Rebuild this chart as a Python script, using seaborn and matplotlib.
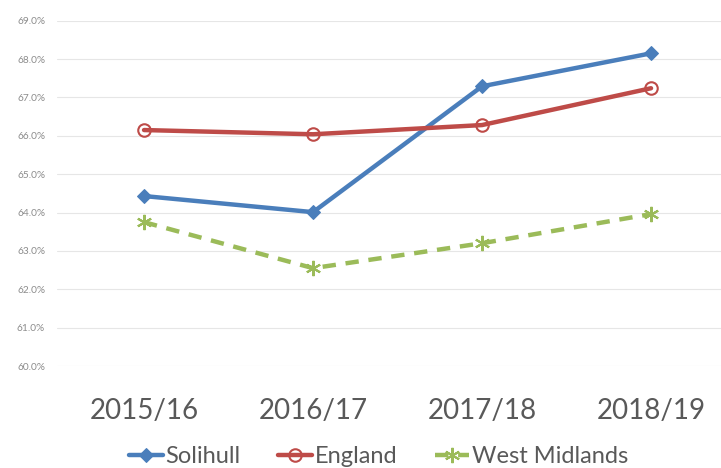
import matplotlib
matplotlib.use("Agg")
import matplotlib.pyplot as plt
import seaborn as sns
import pandas as pd
from matplotlib.ticker import FuncFormatter

years = ["2015/16", "2016/17", "2017/18", "2018/19"]
solihull = [64.43, 64.01, 67.29, 68.15]
england = [66.15, 66.04, 66.28, 67.24]
west_midlands = [63.75, 62.55, 63.20, 63.96]
series_names = ["Solihull", "England", "West Midlands"]

df = pd.DataFrame({
    "year": years * 3,
    "x": list(range(len(years))) * 3,
    "value": solihull + england + west_midlands,
    "series": [s for s in series_names for _ in years],
})

sns.set_theme(style="white")
plt.rcParams["font.family"] = ["Lato", "DejaVu Sans"]

fig = plt.figure(figsize=(7.21, 4.68), dpi=100)
ax = fig.add_axes([57 / 721, 1 - 366 / 468, (721 - 57) / 721, (366 - 20.7) / 468])

styles = {
    "Solihull": dict(color="#4a7ebb", marker="D", markersize=7, linestyle="-",
                     markerfacecolor="#4a7ebb", markeredgecolor="#4a7ebb"),
    "England": dict(color="#be4b48", marker="o", markersize=9, linestyle="-",
                    markerfacecolor="none", markeredgecolor="#be4b48", markeredgewidth=1.5),
    "West Midlands": dict(color="#9bbb59", marker=(6, 2, 0), markersize=11, linestyle=(0, (3, 2.2)),
                          markerfacecolor="#9bbb59", markeredgecolor="#9bbb59", markeredgewidth=1.5),
}

for name in series_names:
    sub = df[df["series"] == name]
    sns.lineplot(data=sub, x="x", y="value", ax=ax, label=name, linewidth=3.2, **styles[name])

ax.set_xlim(-0.515, 3.414)
ax.set_ylim(60, 69)
ax.set_yticks([60 + i for i in range(10)])
ax.yaxis.set_major_formatter(FuncFormatter(lambda v, p: f"{v:.1f}%"))
ax.set_xticks(range(len(years)))
ax.set_xticklabels(years)
ax.tick_params(axis="y", labelsize=7.3, labelcolor="#8c8c8c", length=0, pad=8.5)
ax.tick_params(axis="x", labelsize=20, labelcolor="#595959", length=0, pad=23)
ax.grid(axis="y", color="#e6e6e6", linewidth=0.8)
ax.set_axisbelow(True)
for s in ax.spines.values():
    s.set_visible(False)
ax.set_xlabel("")
ax.set_ylabel("")

ax.legend(loc="center", bbox_to_anchor=(0.484, -0.262), ncol=3, frameon=False,
          fontsize=17, labelcolor="#595959", handlelength=1.45, handletextpad=0.1,
          columnspacing=1.6, borderpad=0)

fig.savefig("out.png", dpi=100)
